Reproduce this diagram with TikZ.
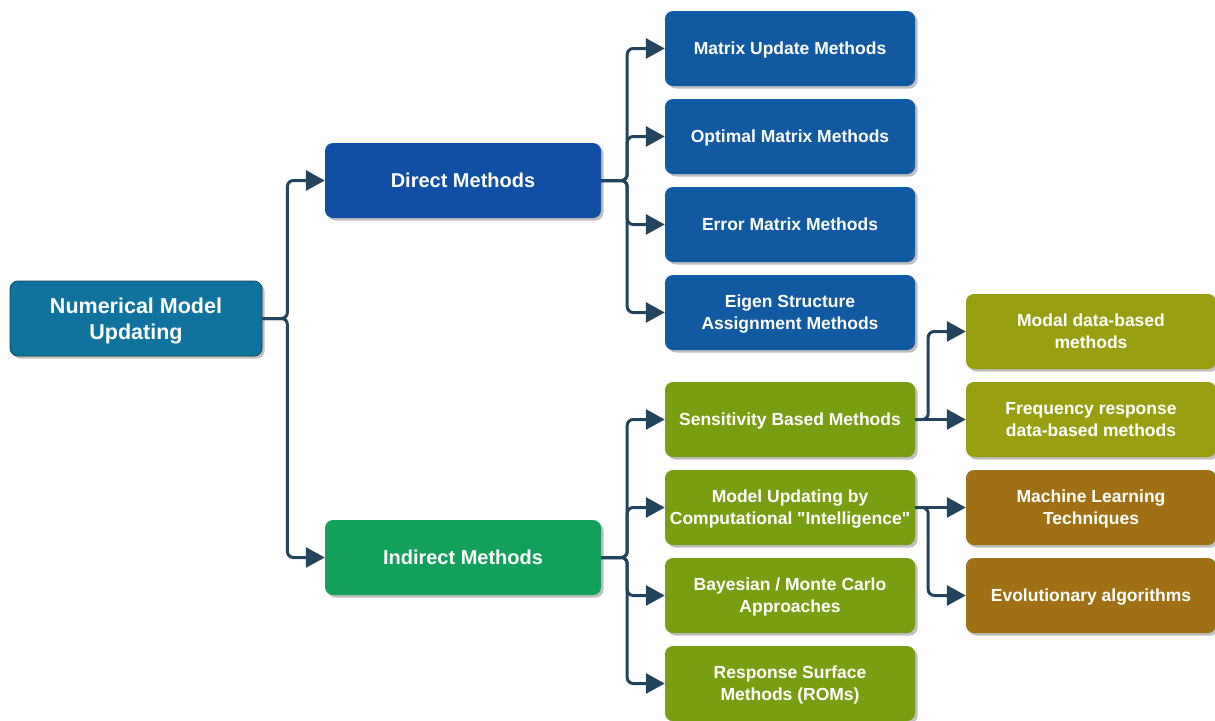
\documentclass[tikz,border=0pt]{standalone}
\usepackage{fontspec}
\setmainfont{Liberation Sans}
\usetikzlibrary{arrows.meta,positioning,shadows}

\definecolor{rootblue}{HTML}{10739E}
\definecolor{rootline}{HTML}{1F3F55}
\definecolor{dirblue}{HTML}{104FA3}
\definecolor{subblue}{HTML}{1159A0}
\definecolor{indgreen}{HTML}{12A05A}
\definecolor{subgreen}{HTML}{7A9E11}
\definecolor{olive}{HTML}{98A011}
\definecolor{brown}{HTML}{A07014}
\definecolor{linkcol}{HTML}{23445D}

\tikzset{
  box/.style={rounded corners=8pt, text=white, align=center, font=\bfseries,
    minimum width=250pt, minimum height=75pt, inner sep=2pt, text depth=-3pt,
    drop shadow={shadow xshift=2.5pt, shadow yshift=-2.5pt, fill=black, opacity=0.25}},
  bigbox/.style={box, minimum width=276pt, font=\fontsize{20}{24}\selectfont\bfseries},
  smallbox/.style={box, font=\fontsize{17.5}{22}\selectfont\bfseries},
  link/.style={draw=linkcol, line width=3pt, rounded corners=6pt,
    -{Triangle[length=19pt,width=20pt]}},
}

\begin{document}
\begin{tikzpicture}[x=1pt,y=-1pt]
\useasboundingbox (0,0) rectangle (1215,720);
% level 0
\node[box, fill=rootblue, draw=rootline, line width=0.8pt, minimum width=252pt,
  font=\fontsize{21.5}{26}\selectfont\bfseries] (root) at (136,318.5) {Numerical Model\\Updating};
% level 1
\node[bigbox, fill=dirblue] (direct) at (463,180.5) {Direct Methods};
\node[bigbox, fill=indgreen] (indirect) at (463,557.5) {Indirect Methods};
% level 2, direct
\node[smallbox, fill=subblue] (mum) at (790,48.5) {Matrix Update Methods};
\node[smallbox, fill=subblue] (omm) at (790,136.5) {Optimal Matrix Methods};
\node[smallbox, fill=subblue] (emm) at (790,224.5) {Error Matrix Methods};
\node[smallbox, fill=subblue] (esam) at (790,312.5) {Eigen Structure\\Assignment Methods};
% level 2, indirect
\node[smallbox, fill=subgreen] (sbm) at (790,419.5) {Sensitivity Based Methods};
\node[smallbox, fill=subgreen] (muci) at (790,507.5) {Model Updating by\\Computational \textquotedbl Intelligence\textquotedbl};
\node[smallbox, fill=subgreen] (bmc) at (790,595.5) {Bayesian / Monte Carlo\\Approaches};
\node[smallbox, fill=subgreen] (rsm) at (790,683.5) {Response Surface\\Methods (ROMs)};
% level 3
\node[smallbox, fill=olive] (modal) at (1091,331.5) {Modal data-based\\methods};
\node[smallbox, fill=olive] (freq) at (1091,419.5) {Frequency response\\data-based methods};
\node[smallbox, fill=brown] (ml) at (1091,507.5) {Machine Learning\\Techniques};
\node[smallbox, fill=brown] (evo) at (1091,595.5) {Evolutionary algorithms};

% connectors
\foreach \t in {direct,indirect}
  \draw[link] (root.east) -- ++(25,0) |- (\t.west);
\foreach \t in {mum,omm,emm,esam}
  \draw[link] (direct.east) -- ++(26,0) |- (\t.west);
\foreach \t in {sbm,muci,bmc,rsm}
  \draw[link] (indirect.east) -- ++(26,0) |- (\t.west);
\draw[link] (sbm.east) -- ++(13,0) |- (modal.west);
\draw[link] (sbm.east) -- (freq.west);
\draw[link] (muci.east) -- (ml.west);
\draw[link] (muci.east) -- ++(13,0) |- (evo.west);
\end{tikzpicture}
\end{document}
